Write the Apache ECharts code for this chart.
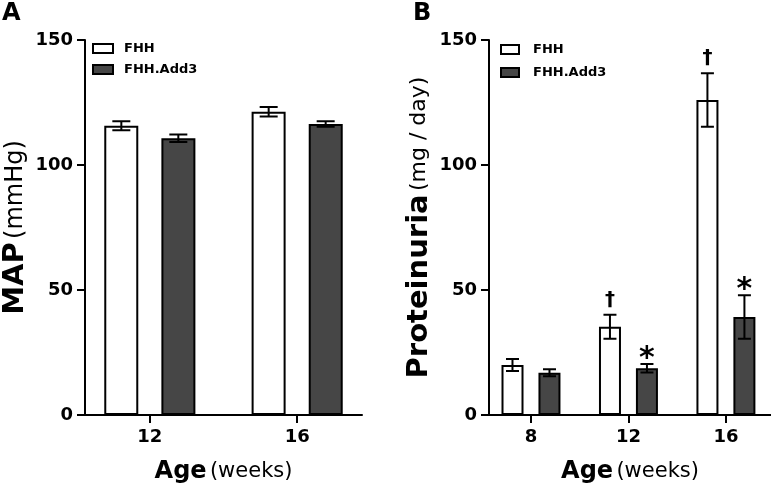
<!DOCTYPE html>
<html>
<head>
<meta charset="utf-8">
<script src="https://cdn.jsdelivr.net/npm/echarts@6/dist/echarts.min.js"></script>
<style>html,body{margin:0;padding:0;background:#fff}#c{width:771px;height:489px}</style>
</head>
<body>
<div id="c"></div>
<script>
// Panel A: MAP (mmHg)
const ageA = [12, 16];
const mapFHH = [115.7, 121.3];
const mapFHHsd = [1.8, 1.9];
const mapAdd3 = [110.7, 116.4];
const mapAdd3sd = [1.5, 1.1];
// Panel B: Proteinuria (mg / day)
const ageB = [8, 12, 16];
const protFHH = [20.0, 35.3, 126.0];
const protFHHsd = [2.4, 4.8, 10.7];
const protAdd3 = [16.9, 18.7, 39.2];
const protAdd3sd = [1.4, 1.7, 8.7];
const sigFHH = ['', '\u2020', '\u2020'];
const sigAdd3 = ['', '*', '*'];

const BOLD = '"DejaVu Sans", sans-serif';
const REG = '"DejaVu Sans", sans-serif';
const DARK = '#464646';

const chart = echarts.init(document.getElementById('c'), null, {renderer: 'canvas'});

function pairs(xs, ys) { return xs.map((x, i) => [x, ys[i]]); }
function errData(xs, ys, sds) { return xs.map((x, i) => [x, ys[i], sds[i]]); }

function errSeries(name, xi, xs, ys, sds, offset, capW, sig, sigFont, sigGap) {
  return {
    type: 'custom', name: name + ' err', xAxisIndex: xi, yAxisIndex: xi, z: 5,
    data: errData(xs, ys, sds), encode: {x: 0, y: 1},
    silent: true,
    renderItem: function (params, api) {
      const x = api.value(0), m = api.value(1), s = api.value(2);
      const t = api.coord([x, m + s]);
      const b = api.coord([x, m - s]);
      const cx = t[0] + offset;
      const st = {stroke: '#000', lineWidth: 2};
      const ch = [
        {type: 'line', shape: {x1: cx, y1: t[1], x2: cx, y2: b[1]}, style: st},
        {type: 'line', shape: {x1: cx - capW / 2, y1: t[1], x2: cx + capW / 2, y2: t[1]}, style: st},
        {type: 'line', shape: {x1: cx - capW / 2, y1: b[1], x2: cx + capW / 2, y2: b[1]}, style: st}
      ];
      const sg = sig ? sig[params.dataIndex] : '';
      if (sg) {
        ch.push({type: 'text', x: cx, y: t[1] - sigGap[sg], style: {text: sg, fill: '#000', font: sigFont[sg], align: 'center', verticalAlign: 'middle'}});
      }
      return {type: 'group', children: ch};
    }
  };
}

function yAxisDef(gi, name, regSize) {
  return {
    type: 'value', gridIndex: gi, min: 0, max: 150, interval: 50,
    axisLine: {show: true, lineStyle: {color: '#000', width: 2}},
    axisTick: {show: true, length: 8, lineStyle: {color: '#000', width: 2}},
    axisLabel: {color: '#000', fontFamily: BOLD, fontWeight: 'bold', fontSize: 18, margin: 12},
    splitLine: {show: false},
    name: name, nameLocation: 'middle', nameRotate: 90, nameGap: 55,
    nameTextStyle: {rich: {
      b: {fontFamily: BOLD, fontWeight: 'bold', fontSize: 29, color: '#000'},
      r: {fontFamily: REG, fontSize: regSize, color: '#000'}
    }}
  };
}
function xAxisDef(gi, min, max, ticks) {
  return {
    type: 'value', gridIndex: gi, min: min, max: max,
    axisLine: {show: true, onZero: false, lineStyle: {color: '#000', width: 2}},
    axisTick: {show: true, length: 8, lineStyle: {color: '#000', width: 2}, customValues: ticks},
    axisLabel: {color: '#000', fontFamily: BOLD, fontWeight: 'bold', fontSize: 18, margin: 13, customValues: ticks},
    splitLine: {show: false},
    name: '{b|Age} {r|(weeks)}', nameLocation: 'middle', nameGap: 45,
    nameTextStyle: {rich: {
      b: {fontFamily: BOLD, fontWeight: 'bold', fontSize: 24, color: '#000'},
      r: {fontFamily: REG, fontSize: 21, color: '#000'}
    }}
  };
}

const sigFont = {'\u2020': 'bold 20px "DejaVu Sans"', '*': 'bold 30px "DejaVu Sans"'};
const sigGap = {'\u2020': 15, '*': 5};

function legendDef(left, top, iw, gap, pad) {
  return {left: left, top: top, padding: 0, orient: 'vertical', icon: 'rect', itemWidth: iw, itemHeight: 9, itemGap: gap,
    data: ['FHH', 'FHH.Add3'], selectedMode: false,
    itemStyle: {borderColor: '#000', borderWidth: 2},
    textStyle: {fontFamily: BOLD, fontWeight: 'bold', fontSize: 13, lineHeight: 10, color: '#000', padding: [0, 0, 0, pad]}};
}

const option = {
  backgroundColor: '#fff',
  animation: false,
  grid: [
    {left: 80, right: 409, top: 40, bottom: 74},
    {left: 489, right: 0, top: 40, bottom: 74}
  ],
  xAxis: [xAxisDef(0, 10.24, 17.76, ageA), xAxisDef(1, 6.277, 17.85, ageB)],
  yAxis: [yAxisDef(0, '{b|MAP} {r|(mmHg)}', 24), yAxisDef(1, '{b|Proteinuria} {r|(mg / day)}', 22)],
  legend: [legendDef(92, 42, 20, 8, 6), legendDef(500, 43, 18, 10, 9)],
  series: [
    {type: 'bar', name: 'FHH', xAxisIndex: 0, yAxisIndex: 0, data: pairs(ageA, mapFHH), barWidth: 34, barGap: '68%',
     itemStyle: {color: '#fff', borderColor: '#000', borderWidth: 2}},
    {type: 'bar', name: 'FHH.Add3', xAxisIndex: 0, yAxisIndex: 0, data: pairs(ageA, mapAdd3), barWidth: 34, barGap: '68%',
     itemStyle: {color: DARK, borderColor: '#000', borderWidth: 2}},
    {type: 'bar', name: 'FHH', xAxisIndex: 1, yAxisIndex: 1, data: pairs(ageB, protFHH), barWidth: 22, barGap: '68%',
     itemStyle: {color: '#fff', borderColor: '#000', borderWidth: 2}},
    {type: 'bar', name: 'FHH.Add3', xAxisIndex: 1, yAxisIndex: 1, data: pairs(ageB, protAdd3), barWidth: 22, barGap: '68%',
     itemStyle: {color: DARK, borderColor: '#000', borderWidth: 2}},
    errSeries('FHH', 0, ageA, mapFHH, mapFHHsd, -28.5, 18, null),
    errSeries('FHH.Add3', 0, ageA, mapAdd3, mapAdd3sd, 28.5, 18, null),
    errSeries('FHH', 1, ageB, protFHH, protFHHsd, -18.5, 13, sigFHH, sigFont, sigGap),
    errSeries('FHH.Add3', 1, ageB, protAdd3, protAdd3sd, 18.5, 13, sigAdd3, sigFont, sigGap)
  ],
  graphic: [
    {type: 'text', left: 2, top: 2, style: {text: 'A', font: 'bold 24px "DejaVu Sans"', fill: '#000'}},
    {type: 'text', left: 413, top: 2, style: {text: 'B', font: 'bold 24px "DejaVu Sans"', fill: '#000'}}
  ]
};
chart.setOption(option);
</script>
</body>
</html>
